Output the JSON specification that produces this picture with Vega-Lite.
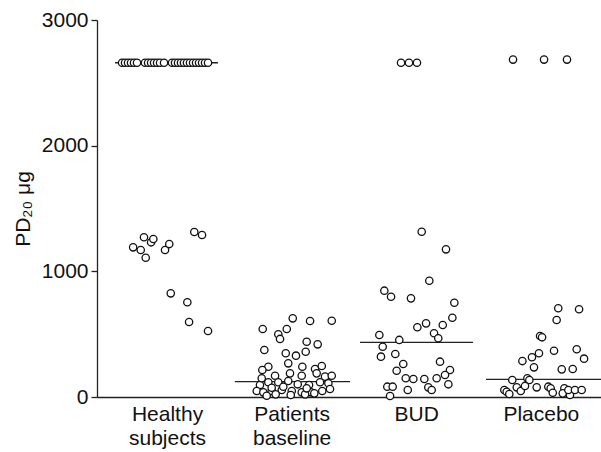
{
  "$schema": "https://vega.github.io/schema/vega-lite/v6.json",
  "width": 504,
  "height": 377,
  "autosize": {"type": "none"},
  "padding": {"left": 97, "top": 20, "right": 0, "bottom": 55},
  "background": "white",
  "config": {
    "view": {"stroke": null},
    "font": "Liberation Sans",
    "axis": {"grid": false, "domainColor": "#222", "domainWidth": 1.3, "tickColor": "#222", "tickWidth": 1.3, "labelColor": "#111", "titleColor": "#111", "labelFont": "Liberation Sans", "titleFont": "Liberation Sans"}
  },
  "datasets": {
    "medians": [
      {"group": "Healthy subjects", "pos": 0.583, "pos2": 1.409, "pd20": 2660},
      {"group": "Patients baseline", "pos": 1.544, "pos2": 2.469, "pd20": 122},
      {"group": "BUD", "pos": 2.549, "pos2": 3.456, "pd20": 435},
      {"group": "Placebo", "pos": 3.560, "pos2": 4.483, "pd20": 141}
    ],
    "points": [
      {"group": "Healthy subjects", "pos": 0.639, "pd20": 2660},
      {"group": "Healthy subjects", "pos": 0.663, "pd20": 2660},
      {"group": "Healthy subjects", "pos": 0.687, "pd20": 2660},
      {"group": "Healthy subjects", "pos": 0.711, "pd20": 2660},
      {"group": "Healthy subjects", "pos": 0.735, "pd20": 2660},
      {"group": "Healthy subjects", "pos": 0.759, "pd20": 2660},
      {"group": "Healthy subjects", "pos": 0.823, "pd20": 2660},
      {"group": "Healthy subjects", "pos": 0.848, "pd20": 2660},
      {"group": "Healthy subjects", "pos": 0.872, "pd20": 2660},
      {"group": "Healthy subjects", "pos": 0.896, "pd20": 2660},
      {"group": "Healthy subjects", "pos": 0.920, "pd20": 2660},
      {"group": "Healthy subjects", "pos": 0.944, "pd20": 2660},
      {"group": "Healthy subjects", "pos": 0.976, "pd20": 2660},
      {"group": "Healthy subjects", "pos": 1.040, "pd20": 2660},
      {"group": "Healthy subjects", "pos": 1.064, "pd20": 2660},
      {"group": "Healthy subjects", "pos": 1.088, "pd20": 2660},
      {"group": "Healthy subjects", "pos": 1.112, "pd20": 2660},
      {"group": "Healthy subjects", "pos": 1.136, "pd20": 2660},
      {"group": "Healthy subjects", "pos": 1.160, "pd20": 2660},
      {"group": "Healthy subjects", "pos": 1.184, "pd20": 2660},
      {"group": "Healthy subjects", "pos": 1.209, "pd20": 2660},
      {"group": "Healthy subjects", "pos": 1.233, "pd20": 2660},
      {"group": "Healthy subjects", "pos": 1.257, "pd20": 2660},
      {"group": "Healthy subjects", "pos": 1.281, "pd20": 2660},
      {"group": "Healthy subjects", "pos": 1.305, "pd20": 2660},
      {"group": "Healthy subjects", "pos": 1.329, "pd20": 2660},
      {"group": "Healthy subjects", "pos": 0.728, "pd20": 1191},
      {"group": "Healthy subjects", "pos": 0.789, "pd20": 1170},
      {"group": "Healthy subjects", "pos": 0.829, "pd20": 1108},
      {"group": "Healthy subjects", "pos": 0.815, "pd20": 1271},
      {"group": "Healthy subjects", "pos": 0.872, "pd20": 1231},
      {"group": "Healthy subjects", "pos": 0.890, "pd20": 1257},
      {"group": "Healthy subjects", "pos": 0.984, "pd20": 1170},
      {"group": "Healthy subjects", "pos": 1.018, "pd20": 1217},
      {"group": "Healthy subjects", "pos": 1.219, "pd20": 1313},
      {"group": "Healthy subjects", "pos": 1.281, "pd20": 1289},
      {"group": "Healthy subjects", "pos": 1.030, "pd20": 825},
      {"group": "Healthy subjects", "pos": 1.163, "pd20": 754},
      {"group": "Healthy subjects", "pos": 1.177, "pd20": 597},
      {"group": "Healthy subjects", "pos": 1.329, "pd20": 525},
      {"group": "Patients baseline", "pos": 2.009, "pd20": 626},
      {"group": "Patients baseline", "pos": 2.148, "pd20": 605},
      {"group": "Patients baseline", "pos": 2.322, "pd20": 607},
      {"group": "Patients baseline", "pos": 1.768, "pd20": 541},
      {"group": "Patients baseline", "pos": 1.893, "pd20": 499},
      {"group": "Patients baseline", "pos": 1.961, "pd20": 541},
      {"group": "Patients baseline", "pos": 1.907, "pd20": 462},
      {"group": "Patients baseline", "pos": 2.121, "pd20": 440},
      {"group": "Patients baseline", "pos": 2.209, "pd20": 419},
      {"group": "Patients baseline", "pos": 1.781, "pd20": 374},
      {"group": "Patients baseline", "pos": 1.953, "pd20": 348},
      {"group": "Patients baseline", "pos": 2.035, "pd20": 329},
      {"group": "Patients baseline", "pos": 2.113, "pd20": 360},
      {"group": "Patients baseline", "pos": 1.973, "pd20": 268},
      {"group": "Patients baseline", "pos": 1.813, "pd20": 241},
      {"group": "Patients baseline", "pos": 1.765, "pd20": 215},
      {"group": "Patients baseline", "pos": 2.086, "pd20": 241},
      {"group": "Patients baseline", "pos": 2.188, "pd20": 223},
      {"group": "Patients baseline", "pos": 2.242, "pd20": 247},
      {"group": "Patients baseline", "pos": 1.867, "pd20": 169},
      {"group": "Patients baseline", "pos": 1.987, "pd20": 188},
      {"group": "Patients baseline", "pos": 2.081, "pd20": 169},
      {"group": "Patients baseline", "pos": 2.201, "pd20": 188},
      {"group": "Patients baseline", "pos": 2.268, "pd20": 162},
      {"group": "Patients baseline", "pos": 2.322, "pd20": 169},
      {"group": "Patients baseline", "pos": 1.746, "pd20": 95},
      {"group": "Patients baseline", "pos": 1.813, "pd20": 117},
      {"group": "Patients baseline", "pos": 1.893, "pd20": 117},
      {"group": "Patients baseline", "pos": 1.973, "pd20": 127},
      {"group": "Patients baseline", "pos": 2.049, "pd20": 101},
      {"group": "Patients baseline", "pos": 2.140, "pd20": 95},
      {"group": "Patients baseline", "pos": 2.228, "pd20": 117},
      {"group": "Patients baseline", "pos": 2.295, "pd20": 109},
      {"group": "Patients baseline", "pos": 1.720, "pd20": 48},
      {"group": "Patients baseline", "pos": 1.773, "pd20": 37},
      {"group": "Patients baseline", "pos": 1.840, "pd20": 48},
      {"group": "Patients baseline", "pos": 1.921, "pd20": 56},
      {"group": "Patients baseline", "pos": 2.001, "pd20": 48},
      {"group": "Patients baseline", "pos": 2.081, "pd20": 37},
      {"group": "Patients baseline", "pos": 2.156, "pd20": 37},
      {"group": "Patients baseline", "pos": 2.246, "pd20": 48},
      {"group": "Patients baseline", "pos": 2.308, "pd20": 64},
      {"group": "Patients baseline", "pos": 1.800, "pd20": 10},
      {"group": "Patients baseline", "pos": 1.872, "pd20": 21},
      {"group": "Patients baseline", "pos": 1.993, "pd20": 16},
      {"group": "Patients baseline", "pos": 2.108, "pd20": 21},
      {"group": "Patients baseline", "pos": 2.182, "pd20": 29},
      {"group": "Patients baseline", "pos": 1.840, "pd20": 74},
      {"group": "Patients baseline", "pos": 1.933, "pd20": 82},
      {"group": "Patients baseline", "pos": 2.121, "pd20": 69},
      {"group": "Patients baseline", "pos": 1.760, "pd20": 149},
      {"group": "BUD", "pos": 2.878, "pd20": 2660},
      {"group": "BUD", "pos": 2.942, "pd20": 2660},
      {"group": "BUD", "pos": 3.006, "pd20": 2660},
      {"group": "BUD", "pos": 3.044, "pd20": 1315},
      {"group": "BUD", "pos": 3.239, "pd20": 1175},
      {"group": "BUD", "pos": 3.105, "pd20": 925},
      {"group": "BUD", "pos": 2.744, "pd20": 846},
      {"group": "BUD", "pos": 2.798, "pd20": 798},
      {"group": "BUD", "pos": 2.958, "pd20": 785},
      {"group": "BUD", "pos": 3.306, "pd20": 750},
      {"group": "BUD", "pos": 3.290, "pd20": 631},
      {"group": "BUD", "pos": 3.213, "pd20": 573},
      {"group": "BUD", "pos": 3.079, "pd20": 586},
      {"group": "BUD", "pos": 3.009, "pd20": 555},
      {"group": "BUD", "pos": 3.143, "pd20": 507},
      {"group": "BUD", "pos": 3.177, "pd20": 467},
      {"group": "BUD", "pos": 2.704, "pd20": 493},
      {"group": "BUD", "pos": 2.864, "pd20": 454},
      {"group": "BUD", "pos": 2.731, "pd20": 400},
      {"group": "BUD", "pos": 2.717, "pd20": 321},
      {"group": "BUD", "pos": 2.832, "pd20": 342},
      {"group": "BUD", "pos": 2.896, "pd20": 263},
      {"group": "BUD", "pos": 2.843, "pd20": 209},
      {"group": "BUD", "pos": 3.191, "pd20": 281},
      {"group": "BUD", "pos": 3.271, "pd20": 215},
      {"group": "BUD", "pos": 3.231, "pd20": 175},
      {"group": "BUD", "pos": 3.164, "pd20": 149},
      {"group": "BUD", "pos": 2.916, "pd20": 149},
      {"group": "BUD", "pos": 2.977, "pd20": 143},
      {"group": "BUD", "pos": 3.065, "pd20": 143},
      {"group": "BUD", "pos": 3.097, "pd20": 77},
      {"group": "BUD", "pos": 3.124, "pd20": 56},
      {"group": "BUD", "pos": 3.258, "pd20": 101},
      {"group": "BUD", "pos": 2.768, "pd20": 82},
      {"group": "BUD", "pos": 2.811, "pd20": 82},
      {"group": "BUD", "pos": 2.790, "pd20": 8},
      {"group": "BUD", "pos": 2.932, "pd20": 56},
      {"group": "Placebo", "pos": 3.777, "pd20": 2685},
      {"group": "Placebo", "pos": 4.026, "pd20": 2685},
      {"group": "Placebo", "pos": 4.210, "pd20": 2685},
      {"group": "Placebo", "pos": 4.140, "pd20": 706},
      {"group": "Placebo", "pos": 4.307, "pd20": 698},
      {"group": "Placebo", "pos": 4.127, "pd20": 613},
      {"group": "Placebo", "pos": 3.994, "pd20": 485},
      {"group": "Placebo", "pos": 4.010, "pd20": 475},
      {"group": "Placebo", "pos": 3.985, "pd20": 348},
      {"group": "Placebo", "pos": 3.929, "pd20": 316},
      {"group": "Placebo", "pos": 3.852, "pd20": 286},
      {"group": "Placebo", "pos": 3.945, "pd20": 236},
      {"group": "Placebo", "pos": 4.106, "pd20": 368},
      {"group": "Placebo", "pos": 4.288, "pd20": 380},
      {"group": "Placebo", "pos": 4.347, "pd20": 305},
      {"group": "Placebo", "pos": 4.168, "pd20": 220},
      {"group": "Placebo", "pos": 4.256, "pd20": 223},
      {"group": "Placebo", "pos": 3.771, "pd20": 135},
      {"group": "Placebo", "pos": 3.892, "pd20": 149},
      {"group": "Placebo", "pos": 3.908, "pd20": 135},
      {"group": "Placebo", "pos": 3.707, "pd20": 56},
      {"group": "Placebo", "pos": 3.726, "pd20": 42},
      {"group": "Placebo", "pos": 3.747, "pd20": 24},
      {"group": "Placebo", "pos": 3.807, "pd20": 77},
      {"group": "Placebo", "pos": 3.839, "pd20": 48},
      {"group": "Placebo", "pos": 3.873, "pd20": 88},
      {"group": "Placebo", "pos": 3.967, "pd20": 77},
      {"group": "Placebo", "pos": 4.060, "pd20": 82},
      {"group": "Placebo", "pos": 4.079, "pd20": 69},
      {"group": "Placebo", "pos": 4.096, "pd20": 34},
      {"group": "Placebo", "pos": 4.189, "pd20": 69},
      {"group": "Placebo", "pos": 4.176, "pd20": 29},
      {"group": "Placebo", "pos": 4.234, "pd20": 16},
      {"group": "Placebo", "pos": 4.221, "pd20": 56},
      {"group": "Placebo", "pos": 4.274, "pd20": 56},
      {"group": "Placebo", "pos": 4.328, "pd20": 56}
    ]
  },
  "encoding": {
    "x": {
      "field": "pos",
      "type": "quantitative",
      "scale": {"domain": [0.438, 4.483], "nice": false, "zero": false},
      "axis": {
        "title": null,
        "values": [1, 2, 3, 4],
        "ticks": false,
        "labelExpr": "datum.value == 1 ? ['Healthy', 'subjects'] : datum.value == 2 ? ['Patients', 'baseline'] : datum.value == 3 ? 'BUD' : 'Placebo'",
        "labelFontSize": 21,
        "labelPadding": 6,
        "labelLineHeight": 24,
        "labelOverlap": false,
        "labelFlush": false,
        "labelBound": false
      }
    },
    "y": {
      "field": "pd20",
      "type": "quantitative",
      "scale": {"domain": [0, 3000], "nice": false},
      "axis": {
        "title": "PD₂₀  μg",
        "values": [0, 1000, 2000, 3000],
        "format": "d",
        "tickSize": 6,
        "labelFontSize": 21,
        "labelPadding": 3,
        "titleFontSize": 21,
        "titleFontWeight": "normal",
        "titlePadding": 8
      }
    }
  },
  "layer": [
    {
      "data": {"name": "medians"},
      "mark": {"type": "rule", "stroke": "#222", "strokeWidth": 1.3},
      "encoding": {"x2": {"field": "pos2"}}
    },
    {
      "data": {"name": "points"},
      "mark": {"type": "circle", "fill": "white", "stroke": "#111", "strokeWidth": 1.3, "size": 54, "opacity": 1}
    }
  ]
}
